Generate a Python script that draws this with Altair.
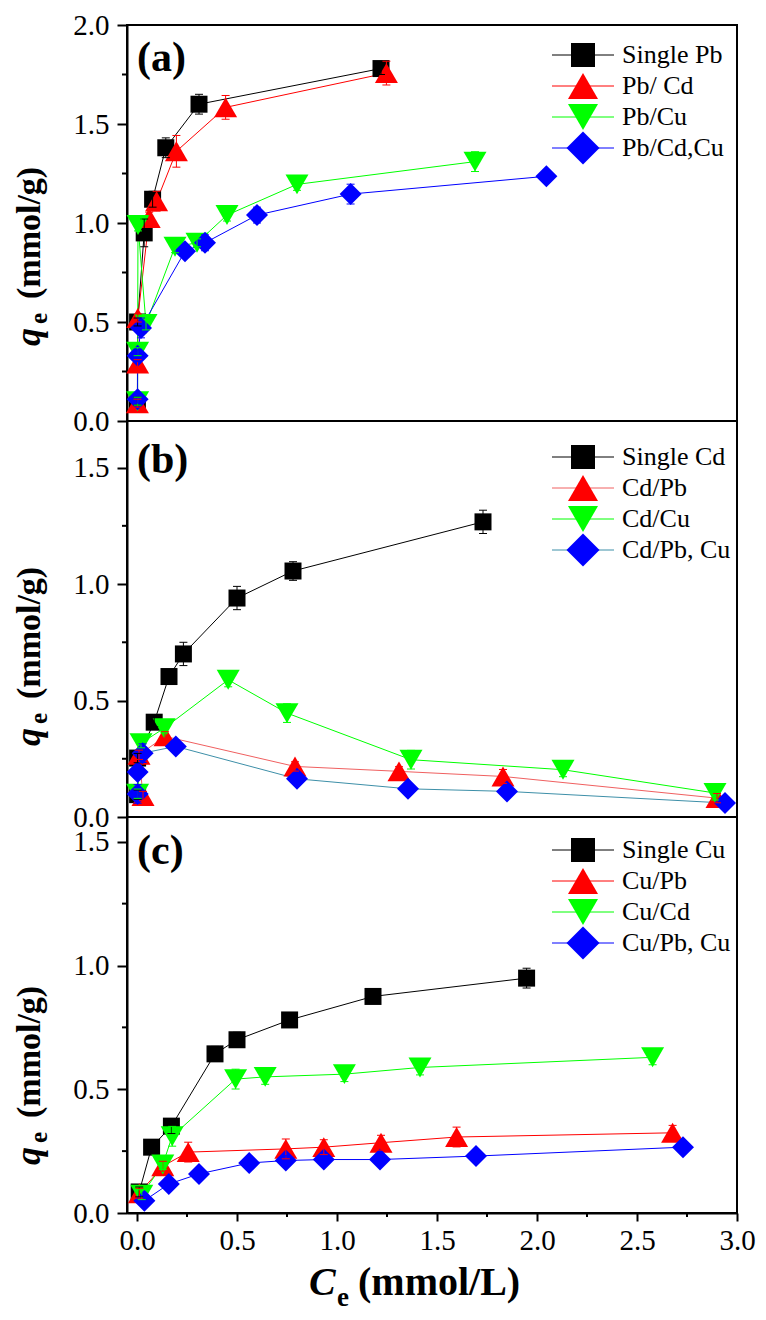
import altair as alt
import pandas as pd

# ---------------- data ----------------
X_TICKS = [0.0, 0.5, 1.0, 1.5, 2.0, 2.5, 3.0]
X_MINOR = [0.25, 0.75, 1.25, 1.75, 2.25, 2.75]

# (a) Pb
PB_NAMES = ["Single Pb", "Pb/ Cd", "Pb/Cu", "Pb/Cd,Cu"]
PB_SINGLE_X = [0.002, 0.003, 0.036, 0.078, 0.144, 0.31, 1.22]
PB_SINGLE_Y = [0.10, 0.50, 0.95, 1.12, 1.38, 1.60, 1.78]
PB_SINGLE_E = [0.02, 0.02, 0.07, 0.04, 0.05, 0.05, 0.03]
PB_CD_X = [0.002, 0.003, 0.004, 0.061, 0.098, 0.197, 0.443, 1.247]
PB_CD_Y = [0.09, 0.29, 0.52, 1.025, 1.11, 1.362, 1.584, 1.757]
PB_CD_E = [0.02, 0.02, 0.02, 0.03, 0.05, 0.08, 0.06, 0.06]
PB_CU_X = [0.003, 0.003, 0.005, 0.045, 0.19, 0.30, 0.45, 0.80, 1.69]
PB_CU_Y = [0.10, 0.35, 0.99, 0.49, 0.88, 0.90, 1.04, 1.195, 1.31]
PB_CU_E = [0.02, 0.02, 0.03, 0.03, 0.03, 0.02, 0.03, 0.03, 0.05]
PB_CDCU_X = [0.003, 0.003, 0.02, 0.24, 0.34, 0.60, 1.068, 2.047]
PB_CDCU_Y = [0.11, 0.33, 0.47, 0.857, 0.90, 1.04, 1.146, 1.236]
PB_CDCU_E = [0.02, 0.03, 0.05, 0.02, 0.04, 0.04, 0.05, 0.03]

# (b) Cd
CD_NAMES = ["Single Cd", "Cd/Pb", "Cd/Cu", "Cd/Pb, Cu"]
CD_SINGLE_X = [0.003, 0.003, 0.086, 0.16, 0.232, 0.50, 0.78, 1.73]
CD_SINGLE_Y = [0.096, 0.253, 0.407, 0.603, 0.70, 0.94, 1.056, 1.267]
CD_SINGLE_E = [0.02, 0.02, 0.02, 0.02, 0.05, 0.05, 0.04, 0.05]
CD_PB_X = [0.03, 0.01, 0.14, 0.79, 1.31, 1.83, 2.90]
CD_PB_Y = [0.09, 0.267, 0.346, 0.217, 0.196, 0.174, 0.081]
CD_PB_E = [0.02, 0.02, 0.02, 0.02, 0.02, 0.03, 0.02]
CD_CU_X = [0.003, 0.02, 0.136, 0.456, 0.75, 1.37, 2.13, 2.89]
CD_CU_Y = [0.10, 0.317, 0.381, 0.589, 0.446, 0.246, 0.203, 0.103]
CD_CU_E = [0.02, 0.02, 0.02, 0.03, 0.04, 0.04, 0.03, 0.03]
CD_PBCU_X = [0.003, 0.003, 0.028, 0.194, 0.80, 1.355, 1.85, 2.94]
CD_PBCU_Y = [0.099, 0.193, 0.274, 0.303, 0.164, 0.121, 0.11, 0.06]
CD_PBCU_E = [0.04, 0.02, 0.04, 0.02, 0.02, 0.02, 0.02, 0.02]

# (c) Cu
CU_NAMES = ["Single Cu", "Cu/Pb", "Cu/Cd", "Cu/Pb, Cu"]
CU_SINGLE_X = [0.011, 0.073, 0.172, 0.39, 0.50, 0.763, 1.18, 1.948]
CU_SINGLE_Y = [0.085, 0.266, 0.351, 0.643, 0.70, 0.78, 0.875, 0.949]
CU_SINGLE_E = [0.02, 0.02, 0.03, 0.03, 0.03, 0.02, 0.02, 0.04]
CU_PB_X = [0.012, 0.129, 0.256, 0.744, 0.934, 1.22, 1.598, 2.678]
CU_PB_Y = [0.08, 0.189, 0.246, 0.259, 0.266, 0.284, 0.307, 0.324]
CU_PB_E = [0.02, 0.02, 0.04, 0.04, 0.03, 0.03, 0.04, 0.03]
CU_CD_X = [0.024, 0.129, 0.176, 0.493, 0.641, 1.037, 1.415, 2.578]
CU_CD_Y = [0.074, 0.196, 0.31, 0.541, 0.55, 0.561, 0.588, 0.629]
CU_CD_E = [0.02, 0.02, 0.04, 0.04, 0.03, 0.03, 0.03, 0.03]
CU_PBCU_X = [0.037, 0.159, 0.31, 0.561, 0.744, 0.934, 1.215, 1.695, 2.73]
CU_PBCU_Y = [0.05, 0.117, 0.158, 0.202, 0.212, 0.216, 0.216, 0.23, 0.266]
CU_PBCU_E = [0.02, 0.02, 0.02, 0.02, 0.02, 0.02, 0.02, 0.02, 0.02]

# ---------------- style ----------------
X_MIN, X_MAX = -0.05, 3.0
W, H = 610, 396
FONT = "Liberation Serif, Times New Roman, serif"
MARK_COLORS = ["#000000", "#ff0000", "#00ff00", "#0000ff"]
LINE_A = ["#000000", "#ff0000", "#00ff00", "#0000ff"]
LINE_B = ["#000000", "#f06060", "#00ff00", "#3d8fa8"]
SHAPES = ["square", "triangle-up", "triangle-down", "diamond"]
PT_SIZES = [289, 529, 529, 484]
LEG_SIZES = [576, 900, 900, 1089]
TX = -87  # baseline of the rotated y titles, px left of the axis


def px2x(px):
    return X_MIN + px / W * (X_MAX - X_MIN)


def panel(names, xs, ys, es, lcolors, ymax, ymajor, yminor, leg_off, label,
          label_y, q_y, bottom):
    xscale = alt.Scale(domain=[X_MIN, X_MAX], nice=False, zero=False)
    yscale = alt.Scale(domain=[0, ymax], nice=False, zero=False)
    if bottom:
        xaxis = alt.Axis(values=X_TICKS, format=".1f", labelFont=FONT,
                         labelFontSize=29, labelColor="black", tickSize=8,
                         tickWidth=2, tickColor="black", domainColor="black",
                         domainWidth=2, labelPadding=5, grid=False, title=None,
                         labelFlush=False, labelOverlap=False)
    else:
        xaxis = None
    yaxis = alt.Axis(values=ymajor, format=".1f", labelFont=FONT,
                     labelFontSize=29, labelColor="black", tickSize=10,
                     tickWidth=2, tickColor="black", domainColor="black",
                     domainWidth=2, labelPadding=8, grid=False, title=None,
                     labelFlush=False, labelOverlap=False)

    def X(f):
        return alt.X(f, type="quantitative", scale=xscale, axis=xaxis)

    def Y(f):
        return alt.Y(f, type="quantitative", scale=yscale, axis=yaxis)

    capd = 4 / W * (X_MAX - X_MIN)
    rows = []
    for s in range(4):
        for i, (x, y, e) in enumerate(zip(xs[s], ys[s], es[s])):
            rows.append(dict(s=s, ord=i, x=x, y=y, lo=y - e, hi=y + e,
                             cl=x - capd, cr=x + capd, mc=MARK_COLORS[s],
                             lc=lcolors[s], shp=SHAPES[s], sz=PT_SIZES[s]))
    df = pd.DataFrame(rows)
    base = alt.Chart(df)

    lines = base.mark_line(strokeWidth=1).encode(
        x=X("x"), y=Y("y"), detail="s:N", order="ord:Q",
        color=alt.Color("lc:N", scale=None))
    points = base.mark_point(filled=True, opacity=1).encode(
        x=X("x"), y=Y("y"), color=alt.Color("mc:N", scale=None),
        shape=alt.Shape("shp:N", scale=None), size=alt.Size("sz:Q", scale=None))
    ebar = base.mark_rule(strokeWidth=1).encode(
        x=X("x"), y=Y("lo"), y2="hi", color=alt.Color("mc:N", scale=None))
    cap_hi = base.mark_rule(strokeWidth=1).encode(
        x=X("cl"), x2="cr", y=Y("hi"), color=alt.Color("mc:N", scale=None))
    cap_lo = base.mark_rule(strokeWidth=1).encode(
        x=X("cl"), x2="cr", y=Y("lo"), color=alt.Color("mc:N", scale=None))

    yminor_l = alt.Chart(pd.DataFrame({"v": yminor})).mark_rule(
        strokeWidth=2, color="black").encode(
        y=Y("v"), x=alt.value(-5), x2=alt.value(0))

    # legend built from marks
    lrows = []
    for i, n in enumerate(names):
        ly = ymax - (leg_off + i * 31) / H * ymax
        lrows.append(dict(name=n, ly=ly, lx1=px2x(425), lx2=px2x(487),
                          lxs=px2x(456), lxt=px2x(495), mc=MARK_COLORS[i],
                          lc=lcolors[i], shp=SHAPES[i], lsz=LEG_SIZES[i]))
    ldf = alt.Chart(pd.DataFrame(lrows))
    leg_line = ldf.mark_rule(strokeWidth=1).encode(
        x=X("lx1"), x2="lx2", y=Y("ly"), color=alt.Color("lc:N", scale=None))
    leg_pt = ldf.mark_point(filled=True, opacity=1).encode(
        x=X("lxs"), y=Y("ly"), color=alt.Color("mc:N", scale=None),
        shape=alt.Shape("shp:N", scale=None), size=alt.Size("lsz:Q", scale=None))
    leg_txt = ldf.mark_text(align="left", baseline="middle", font=FONT,
                            fontSize=26, color="black").encode(
        x=X("lxt"), y=Y("ly"), text="name:N")

    lab = alt.Chart(pd.DataFrame({"t": [label]})).mark_text(
        align="left", baseline="alphabetic", font=FONT, fontSize=42,
        fontWeight="bold", color="black").encode(
        x=alt.value(10), y=alt.value(label_y), text="t:N")

    def rot_text(t, xpx, ypx, size, style):
        return alt.Chart(pd.DataFrame({"t": [t]})).mark_text(
            align="left", baseline="alphabetic", angle=270, font=FONT,
            fontSize=size, fontWeight="bold", fontStyle=style,
            color="black").encode(x=alt.value(xpx), y=alt.value(ypx), text="t:N")

    yt_q = rot_text("q", TX, q_y, 36, "italic")
    yt_e = rot_text("e", TX + 7, q_y - 22, 25, "normal")
    yt_u = rot_text("(mmol/g)", TX, q_y - 47, 34, "normal")

    layers = [lines, points, ebar, cap_hi, cap_lo, yminor_l, leg_line,
              leg_pt, leg_txt, lab, yt_q, yt_e, yt_u]

    if bottom:
        xminor_l = alt.Chart(pd.DataFrame({"v": X_MINOR})).mark_rule(
            strokeWidth=2, color="black").encode(
            x=X("v"), y=alt.value(H), y2=alt.value(H + 4))

        def htext(t, xpx, ypx, size, style):
            return alt.Chart(pd.DataFrame({"t": [t]})).mark_text(
                align="left", baseline="alphabetic", font=FONT, fontSize=size,
                fontWeight="bold", fontStyle=style, color="black").encode(
                x=alt.value(xpx), y=alt.value(ypx), text="t:N")

        layers += [xminor_l,
                   htext("C", 182, 478, 40, "italic"),
                   htext("e", 210, 489, 27, "normal"),
                   htext("(mmol/L)", 231, 478, 40, "normal")]

    return alt.layer(*layers).properties(width=W, height=H)


pa = panel(PB_NAMES,
           [PB_SINGLE_X, PB_CD_X, PB_CU_X, PB_CDCU_X],
           [PB_SINGLE_Y, PB_CD_Y, PB_CU_Y, PB_CDCU_Y],
           [PB_SINGLE_E, PB_CD_E, PB_CU_E, PB_CDCU_E],
           LINE_A, 2.0, [0.0, 0.5, 1.0, 1.5, 2.0], [0.25, 0.75, 1.25, 1.75],
           30, "(a)", 46, 321, False)
pb = panel(CD_NAMES,
           [CD_SINGLE_X, CD_PB_X, CD_CU_X, CD_PBCU_X],
           [CD_SINGLE_Y, CD_PB_Y, CD_CU_Y, CD_PBCU_Y],
           [CD_SINGLE_E, CD_PB_E, CD_CU_E, CD_PBCU_E],
           LINE_B, 1.7, [0.0, 0.5, 1.0, 1.5], [0.25, 0.75, 1.25],
           36, "(b)", 52, 325, False)
pc = panel(CU_NAMES,
           [CU_SINGLE_X, CU_PB_X, CU_CD_X, CU_PBCU_X],
           [CU_SINGLE_Y, CU_PB_Y, CU_CD_Y, CU_PBCU_Y],
           [CU_SINGLE_E, CU_PB_E, CU_CD_E, CU_PBCU_E],
           LINE_A, 1.6, [0.0, 0.5, 1.0, 1.5], [0.25, 0.75, 1.25],
           33, "(c)", 47, 348, True)

chart = alt.vconcat(pa, pb, pc, spacing=0, bounds="flush").properties(
    padding={"left": 2, "top": 2, "right": 0, "bottom": 0},
    background="white",
).configure_view(stroke="black", strokeWidth=2)

chart.save("out.html", embed_options={"renderer": "svg", "actions": False})
